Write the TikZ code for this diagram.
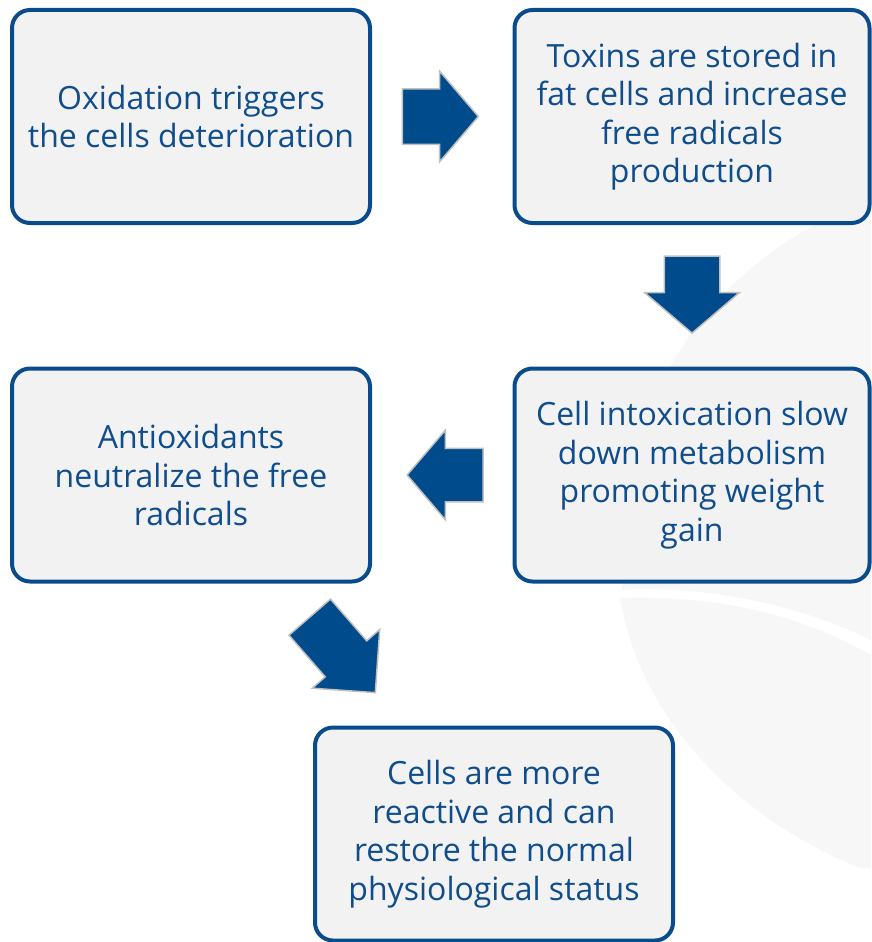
\documentclass[tikz,border=0pt]{standalone}
\usepackage{fontspec}
\setmainfont{Open Sans}
\usepackage{xcolor}
\usepackage{tikz}
\usetikzlibrary{shapes,shapes.arrows,positioning,calc}
\definecolor{boxblue}{RGB}{10,76,139}
\definecolor{textblue}{RGB}{16,77,140}
\definecolor{arrowblue}{RGB}{0,75,140}
\definecolor{arrowedge}{RGB}{192,192,192}
\definecolor{boxfill}{RGB}{242,242,242}
\definecolor{leafgray}{RGB}{247,247,247}

\begin{document}
\begin{tikzpicture}[x=1pt, y=-1pt,
    stepbox/.style={draw=boxblue, fill=boxfill, line width=4pt, rounded corners=18pt,
        minimum width=358pt, minimum height=213pt, align=center, text=textblue,
        font=\fontsize{32}{38.5}\selectfont},
    flow/.style={single arrow, draw=arrowedge, fill=arrowblue, line width=1.5pt,
        inner xsep=0pt, inner ysep=27pt, minimum height=76pt, minimum width=0pt,
        single arrow head extend=17.5pt, single arrow tip angle=99}]
    \useasboundingbox (0,0) rectangle (871,942);

    % Background leaves
    \fill[leafgray] (871,200) .. controls (700,260) and (610,420) .. (622,590)
        .. controls (720,585) and (810,610) .. (871,640) -- cycle;
    \fill[leafgray] (620,598) .. controls (640,720) and (740,820) .. (860,868)
        -- (871,868) -- (871,655) .. controls (800,615) and (720,595) .. (620,598);

    % Boxes
    \node[stepbox] (ox) at (191,116.5) {Oxidation triggers\\the cells deterioration};
    \node[stepbox, minimum width=355pt] (tox) at (692,116.5) {Toxins are stored in\\fat cells and increase\\free radicals\\production};
    \node[stepbox, minimum width=355pt] (slow) at (692,475) {Cell intoxication slow\\down metabolism\\promoting weight\\gain};
    \node[stepbox] (anti) at (191,475) {Antioxidants\\neutralize the free\\radicals};
    \node[stepbox] (restore) at (494,834) {Cells are more\\reactive and can\\restore the normal\\physiological status};

    % Arrows
    \node[flow] (a1) at ($(ox)!0.5!(tox)+(-13,0)$) {};
    \node[flow, rotate=-90, minimum height=77pt, single arrow head extend=19.5pt] (a2) at ($(tox)!0.5!(slow)+(0,-13)$) {};
    \node[flow, rotate=180, inner ysep=26pt, single arrow head extend=18pt] (a3) at ($(slow)!0.5!(anti)+(15,0)$) {};
    \node[flow, rotate=-49, minimum height=100pt, inner ysep=26.75pt, single arrow head extend=17.25pt, single arrow tip angle=90] (a4) at ($(anti)!0.5!(restore)+(-9,-10)$) {};
\end{tikzpicture}
\end{document}
